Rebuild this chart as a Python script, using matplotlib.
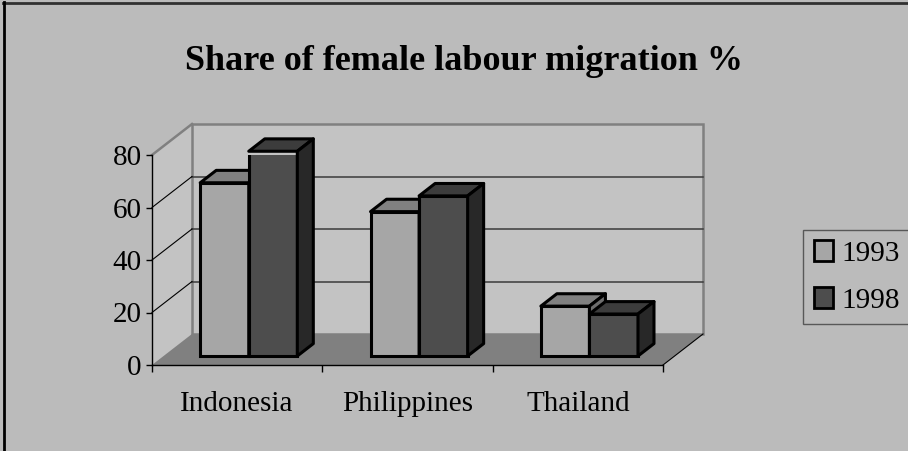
import matplotlib
matplotlib.use("Agg")
import matplotlib.pyplot as plt
from matplotlib.patches import Polygon, Rectangle
from matplotlib.lines import Line2D

# ---- data ----
categories = ["Indonesia", "Philippines", "Thailand"]
series_names = ["1993", "1998"]
values_1993 = [66, 55, 19]
values_1998 = [78, 61, 16]
yticks = [0, 20, 40, 60, 80]
title = "Share of female labour migration %"

# ---- style ----
BG = "#BBBBBB"
WALL = "#C3C3C3"
FLOOR = "#808080"
WALL_EDGE = "#808080"
front_cols = ["#A6A6A6", "#4D4D4D"]
top_cols = ["#808080", "#3C3C3C"]
side_cols = ["#6E6E6E", "#282828"]
FONT = "Liberation Serif"
plt.rcParams["font.family"] = [FONT, "DejaVu Serif"]
FS = 21

W, H = 908, 451
fig = plt.figure(figsize=(W / 100, H / 100), dpi=100, facecolor=BG)

# front plane of the 3-D plot in pixels
px_left, px_right, px_bottom, px_top = 152, 663, 365, 155
ax = fig.add_axes([px_left / W, 1 - px_bottom / H,
                   (px_right - px_left) / W, (px_bottom - px_top) / H])
ax.set_xlim(0, len(categories))
ax.set_ylim(0, 80)
ax.patch.set_visible(False)

# depth offset expressed in data units
ddx = 40 / ((px_right - px_left) / len(categories))
ddy = 31 / ((px_bottom - px_top) / 80)
zf, zd = 0.29, 0.40   # bar front depth fraction, bar depth fraction
bw = 0.285            # bar width in category units
ncat = len(categories)
ymax = 80

# walls and floor
ax.add_patch(Rectangle((ddx, ddy), ncat, ymax, facecolor=WALL, edgecolor=WALL_EDGE,
                       lw=1.8, clip_on=False, zorder=0.5))
ax.add_patch(Polygon([(0, 0), (ddx, ddy), (ddx, ymax + ddy), (0, ymax)], closed=True,
                     facecolor=WALL, edgecolor="none", clip_on=False, zorder=0.4))
ax.add_line(Line2D([0, ddx], [ymax, ymax + ddy], color=WALL_EDGE, lw=1.8,
                   clip_on=False, zorder=0.6))
ax.add_patch(Polygon([(0, 0), (ncat, 0), (ncat + ddx, ddy), (ddx, ddy)], closed=True,
                     facecolor=FLOOR, edgecolor="none", clip_on=False, zorder=0.7))
ax.add_line(Line2D([ncat, ncat + ddx], [0, ddy], color="black", lw=0.8,
                   clip_on=False, zorder=0.8))
for v in yticks[1:-1]:
    ax.add_line(Line2D([ddx, ncat + ddx], [v + ddy, v + ddy], color="#3A3A3A", lw=1.1,
                       clip_on=False, zorder=0.8))
    ax.add_line(Line2D([0, ddx], [v, v + ddy], color="black", lw=0.8,
                       clip_on=False, zorder=0.8))

# bars
base = zf * ddy
bars_handles = []
for s, vals in enumerate([values_1993, values_1998]):
    xs = [i + 0.5 - bw + s * bw + zf * ddx for i in range(ncat)]
    bc = ax.bar(xs, vals, width=bw, bottom=base, align="edge", color=front_cols[s],
                edgecolor="black", linewidth=2.2, zorder=3 + s, label=series_names[s])
    bars_handles.append(bc)
    for x, v in zip(xs, vals):
        top = base + v
        ax.add_patch(Polygon([(x, top), (x + bw, top), (x + bw + zd * ddx, top + zd * ddy),
                              (x + zd * ddx, top + zd * ddy)], closed=True,
                             facecolor=top_cols[s], edgecolor="black", lw=2.2,
                             joinstyle="round", clip_on=False, zorder=3 + s))
        ax.add_patch(Polygon([(x + bw, base), (x + bw + zd * ddx, base + zd * ddy),
                              (x + bw + zd * ddx, top + zd * ddy), (x + bw, top)], closed=True,
                             facecolor=side_cols[s], edgecolor="black", lw=2.2,
                             joinstyle="round", clip_on=False, zorder=3 + s))

# axes
for sp in ["top", "right"]:
    ax.spines[sp].set_visible(False)
ax.spines["left"].set_color("black")
ax.spines["bottom"].set_color("black")
ax.spines["left"].set_linewidth(1.0)
ax.spines["bottom"].set_linewidth(1.0)
ax.spines["left"].set_zorder(1)
ax.spines["bottom"].set_zorder(1)
ax.set_yticks(yticks)
ax.set_yticklabels([str(t) for t in yticks], fontsize=FS)
ax.tick_params(axis="y", direction="out", length=4, width=1, pad=3.5, colors="black")
ax.set_xticks(range(ncat + 1))
ax.set_xticklabels([""] * (ncat + 1))
ax.set_xticks([i + 0.5 for i in range(ncat)], minor=True)
ax.set_xticklabels(categories, minor=True, fontsize=FS)
ax.tick_params(axis="x", which="major", direction="out", length=5, width=1)
ax.tick_params(axis="x", which="minor", length=0, pad=19)

# title
fig.text(464 / W, 1 - 62 / H, title, ha="center", va="center", fontsize=26,
         fontweight="bold")

# legend
leg = fig.legend(handles=bars_handles, labels=series_names, loc="upper left",
                 bbox_to_anchor=(803 / W, 1 - 230 / H), borderaxespad=0,
                 prop={"size": FS}, frameon=True, fancybox=False,
                 handlelength=0.66, handleheight=0.7, handletextpad=0.3,
                 labelspacing=0.7, borderpad=0.36)
leg.get_frame().set_edgecolor("#404040")
leg.get_frame().set_facecolor(BG)
leg.get_frame().set_linewidth(1.0)
for p in leg.get_patches():
    p.set_linewidth(2.0)

# outer frame (top and left edges visible)
fig.add_artist(Line2D([3 / W, 1], [1 - 2.5 / H, 1 - 2.5 / H], transform=fig.transFigure,
                      color="#303030", lw=2.0))
fig.add_artist(Line2D([3.5 / W, 3.5 / W], [0, 1 - 2 / H], transform=fig.transFigure,
                      color="black", lw=2.0))

fig.savefig("out.png", dpi=100, facecolor=BG)
